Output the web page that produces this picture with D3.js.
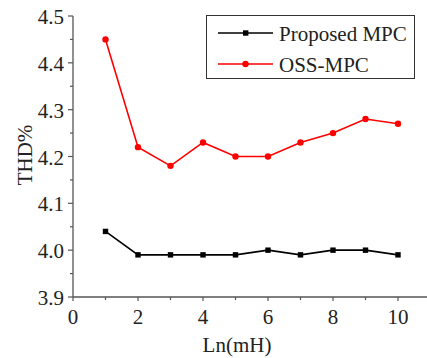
<!DOCTYPE html>
<html>
<head>
<meta charset="utf-8">
<script src="https://cdn.jsdelivr.net/npm/d3@7"></script>
<style>
body { margin: 0; background: #fff; }
text { font-family: "Liberation Serif", "Times New Roman", serif; }
</style>
</head>
<body>
<script>
var ln = [1, 2, 3, 4, 5, 6, 7, 8, 9, 10];
var proposed = [4.04, 3.99, 3.99, 3.99, 3.99, 4.00, 3.99, 4.00, 4.00, 3.99];
var oss = [4.45, 4.22, 4.18, 4.23, 4.20, 4.20, 4.23, 4.25, 4.28, 4.27];
var xTicks = [0, 2, 4, 6, 8, 10];
var yTicks = [3.9, 4.0, 4.1, 4.2, 4.3, 4.4, 4.5];
var seriesNames = ["Proposed MPC", "OSS-MPC"];

var width = 427, height = 358;

var svg = d3.select("body").append("svg")
  .attr("width", width)
  .attr("height", height);

var xScale = d3.scaleLinear()
  .domain([0, 10])
  .range([73, 398]);

var yScale = d3.scaleLinear()
  .domain([3.9, 4.5])
  .range([297, 16]);

var fs = "21px";

// x axis
var xAxis = svg.append("g")
  .attr("transform", "translate(0," + yScale(3.9) + ")");
xAxis.append("line")
  .attr("x1", xScale(0)).attr("x2", width)
  .attr("stroke", "#555").attr("stroke-width", 1.3);
xAxis.selectAll(".minor").data(d3.range(1, 12, 2)).enter().append("line")
  .attr("x1", d => xScale(d)).attr("x2", d => xScale(d))
  .attr("y1", 0).attr("y2", 3)
  .attr("stroke", "#555").attr("stroke-width", 1.2);
xAxis.selectAll(".major").data(xTicks.concat([12])).enter().append("line")
  .attr("x1", d => xScale(d)).attr("x2", d => xScale(d))
  .attr("y1", 0).attr("y2", 4)
  .attr("stroke", "#555").attr("stroke-width", 1.2);
xAxis.selectAll(".lbl").data(xTicks).enter().append("text")
  .attr("x", d => xScale(d)).attr("y", 27)
  .attr("text-anchor", "middle")
  .attr("font-size", fs)
  .attr("fill", "#222")
  .text(d => d);

// y axis
var yAxis = svg.append("g")
  .attr("transform", "translate(" + xScale(0) + ",0)");
yAxis.append("line")
  .attr("y1", yScale(3.9)).attr("y2", yScale(4.5))
  .attr("stroke", "#555").attr("stroke-width", 1.3);
yAxis.selectAll(".minor").data(d3.range(3.95, 4.5, 0.1)).enter().append("line")
  .attr("y1", d => yScale(d)).attr("y2", d => yScale(d))
  .attr("x1", 0).attr("x2", -3)
  .attr("stroke", "#555").attr("stroke-width", 1.2);
yAxis.selectAll(".major").data(yTicks).enter().append("line")
  .attr("y1", d => yScale(d)).attr("y2", d => yScale(d))
  .attr("x1", 0).attr("x2", -5)
  .attr("stroke", "#555").attr("stroke-width", 1.2);
yAxis.selectAll(".lbl").data(yTicks).enter().append("text")
  .attr("x", -9).attr("y", d => yScale(d) + 8)
  .attr("text-anchor", "end")
  .attr("font-size", fs)
  .attr("fill", "#222")
  .text(d => d.toFixed(1));

// axis titles
svg.append("text")
  .attr("x", 237).attr("y", 352)
  .attr("text-anchor", "middle")
  .attr("font-size", fs)
  .attr("fill", "#222")
  .text("Ln(mH)");

svg.append("text")
  .attr("transform", "translate(32,155) rotate(-90)")
  .attr("text-anchor", "middle")
  .attr("font-size", fs)
  .attr("fill", "#222")
  .text("THD%");

var line = d3.line()
  .x((d, i) => xScale(ln[i]))
  .y(d => yScale(d));

// OSS-MPC
svg.append("path").attr("d", line(oss))
  .attr("fill", "none").attr("stroke", "#f00").attr("stroke-width", 1.6);
svg.selectAll(".ossPt").data(oss).enter().append("circle")
  .attr("cx", (d, i) => xScale(ln[i])).attr("cy", d => yScale(d))
  .attr("r", 3.2).attr("fill", "#f00");

// Proposed MPC
svg.append("path").attr("d", line(proposed))
  .attr("fill", "none").attr("stroke", "#000").attr("stroke-width", 1.6);
svg.selectAll(".propPt").data(proposed).enter().append("rect")
  .attr("x", (d, i) => xScale(ln[i]) - 2.7).attr("y", d => yScale(d) - 2.7)
  .attr("width", 5.4).attr("height", 5.4).attr("fill", "#000");

// legend
var legend = svg.append("g");
legend.append("rect")
  .attr("x", 206.5).attr("y", 15.5).attr("width", 208).attr("height", 63)
  .attr("fill", "#fff").attr("stroke", "#333").attr("stroke-width", 1);
var legColors = ["#000", "#f00"];
seriesNames.forEach(function(name, i) {
  var y = 33 + i * 31;
  legend.append("line")
    .attr("x1", 218).attr("x2", 273).attr("y1", y).attr("y2", y)
    .attr("stroke", legColors[i]).attr("stroke-width", 1.6);
  if (i === 0) {
    legend.append("rect").attr("x", 243).attr("y", y - 2.7)
      .attr("width", 5.4).attr("height", 5.4).attr("fill", "#000");
  } else {
    legend.append("circle").attr("cx", 245.5).attr("cy", y)
      .attr("r", 3.2).attr("fill", "#f00");
  }
  legend.append("text")
    .attr("x", 279).attr("y", y + 8)
    .attr("font-size", fs)
    .attr("fill", "#222")
    .text(name);
});
</script>
</body>
</html>
